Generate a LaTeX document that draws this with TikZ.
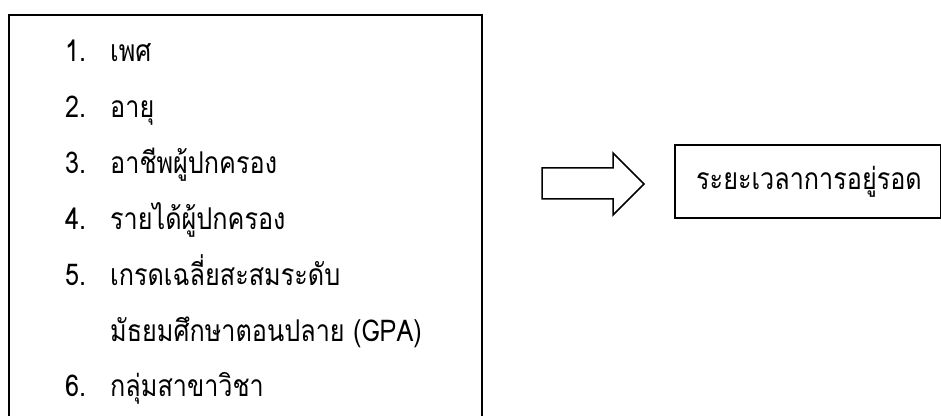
\documentclass[tikz,border=0pt]{standalone}
\usepackage{fontspec}
\newfontfamily\thaifont[Script=Thai,FakeStretch=0.84]{Loma}
\begin{document}
\begin{tikzpicture}[x=1pt,y=1pt,
  frame/.style={draw=black,line width=1.7pt,inner sep=0pt},
  itemtext/.style={anchor=base west,inner sep=0pt,font=\thaifont\fontsize{30}{34}\selectfont},
  arrowshape/.style={draw=black,line width=1.5pt,fill=white}]
\clip (0,0) rectangle (941,415);
% left box (bottom edge outside the picture)
\node[frame,minimum width=473pt,minimum height=420pt,anchor=north west] (leftbox) at (8,401) {};
% list
\foreach \n/\t [count=\i from 0] in {1./เพศ,2./อายุ,3./อาชีพผู้ปกครอง,4./รายได้ผู้ปกครอง,5./เกรดเฉลี่ยสะสมระดับ}{
  \node[itemtext] (num\i) at (65,{415-62-55.8*\i}) {\n};
  \node[itemtext] (txt\i) at (110,{415-62-55.8*\i}) {\t};
}
\node[itemtext] (txt5b) at (110,{415-62-55.8*5}) {มัธยมศึกษาตอนปลาย (GPA)};
\node[itemtext] (num6) at (65,{415-62-55.8*6}) {6.};
\node[itemtext] (txt6) at (110,{415-62-55.8*6}) {กลุ่มสาขาวิชา};
% right box
\node[frame,minimum width=266pt,minimum height=73pt,anchor=north west] (rightbox) at (674,271) {};
\node[itemtext] (result) at (696,{415-190}) {ระยะเวลาการอยู่รอด};
% block arrow
\draw[arrowshape] (542,{415-168}) -- (613,{415-168}) -- (613,{415-153}) -- (644,{415-184})
  -- (613,{415-215}) -- (613,{415-199}) -- (542,{415-199}) -- cycle;
\end{tikzpicture}
\end{document}
